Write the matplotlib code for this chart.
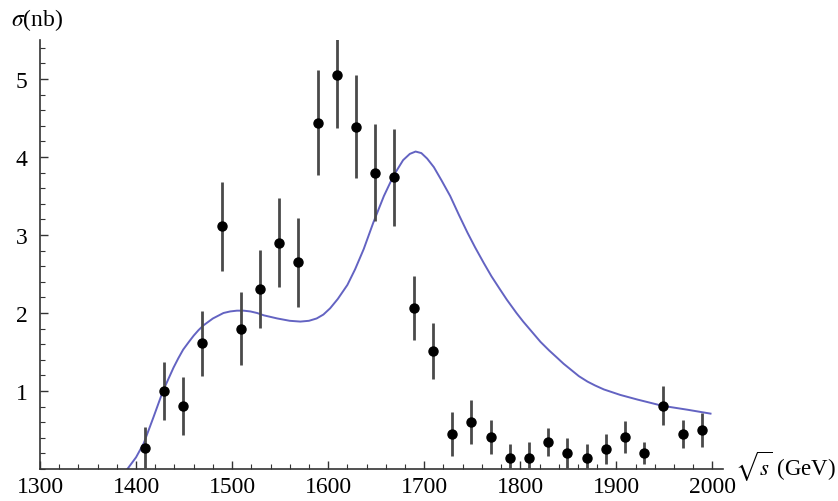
import numpy as np
import matplotlib
matplotlib.use('Agg')
import matplotlib.pyplot as plt
from matplotlib.ticker import MultipleLocator

# measured points
energy = [1409, 1429, 1449, 1469, 1489, 1509, 1529, 1549, 1569, 1589,
          1609, 1629, 1649, 1669, 1689, 1709, 1729, 1749, 1769, 1789,
          1809, 1829, 1849, 1869, 1889, 1909, 1929, 1949, 1969, 1989]
sigma = [0.27, 1.00, 0.81, 1.61, 3.11, 1.80, 2.31, 2.90, 2.65, 4.44,
         5.05, 4.39, 3.80, 3.74, 2.06, 1.51, 0.45, 0.60, 0.41, 0.14,
         0.14, 0.35, 0.20, 0.14, 0.26, 0.41, 0.21, 0.81, 0.45, 0.50]
sigma_err = [0.27, 0.37, 0.37, 0.42, 0.57, 0.47, 0.50, 0.57, 0.57, 0.67,
             0.68, 0.66, 0.62, 0.62, 0.41, 0.36, 0.28, 0.28, 0.22, 0.18,
             0.20, 0.18, 0.20, 0.18, 0.19, 0.21, 0.14, 0.25, 0.18, 0.22]

# fit curve
fit_x = [1391, 1400, 1408, 1418, 1428, 1439, 1444, 1449, 1455, 1460,
         1465, 1470, 1480, 1491, 1498, 1505, 1512, 1519, 1526, 1533,
         1547, 1560, 1571, 1580, 1588, 1595, 1602, 1610, 1620, 1628,
         1637, 1647, 1658, 1668, 1678, 1685, 1691, 1697, 1703, 1710,
         1718, 1727, 1736, 1745, 1753, 1762, 1770, 1779, 1786, 1796,
         1803, 1812, 1821, 1830, 1838, 1845, 1852, 1861, 1870, 1878,
         1887, 1904, 1922, 1948, 1974, 1998]
fit_y = [0.00, 0.15, 0.33, 0.66, 1.00, 1.30, 1.42, 1.53, 1.63, 1.71,
         1.78, 1.84, 1.93, 2.00, 2.02, 2.03, 2.03, 2.02, 2.00, 1.97,
         1.93, 1.90, 1.89, 1.90, 1.93, 1.98, 2.06, 2.18, 2.36, 2.56,
         2.82, 3.16, 3.50, 3.76, 3.96, 4.04, 4.07, 4.05, 3.98, 3.87,
         3.70, 3.50, 3.26, 3.03, 2.84, 2.64, 2.47, 2.30, 2.17, 2.00,
         1.89, 1.76, 1.63, 1.52, 1.43, 1.35, 1.28, 1.19, 1.12, 1.07,
         1.02, 0.95, 0.89, 0.81, 0.76, 0.71]

plt.rcParams['font.family'] = ['Liberation Serif', 'DejaVu Serif']
plt.rcParams['mathtext.fontset'] = 'stix'

fig = plt.figure(figsize=(8.38, 5.02), dpi=100)
ax = fig.add_axes([40 / 838, 32 / 502, 683 / 838, 429 / 502])

ax.plot(fit_x, fit_y, color='#6363c2', lw=1.4, zorder=2)
ax.errorbar(energy, sigma, yerr=sigma_err, fmt='o', color='black', ms=6.5,
            ecolor='#4a4a4a', elinewidth=2.0, capsize=0, zorder=3)

ax.set_xlim(1300, 2011)
ax.set_ylim(0, 5.5)

for side in ['top', 'right']:
    ax.spines[side].set_visible(False)
for side in ['left', 'bottom']:
    ax.spines[side].set_linewidth(1.2)
    ax.spines[side].set_color('#333333')

ax.xaxis.set_major_locator(MultipleLocator(100))
ax.xaxis.set_minor_locator(MultipleLocator(20))
ax.yaxis.set_major_locator(MultipleLocator(1))
ax.yaxis.set_minor_locator(MultipleLocator(0.2))
ax.set_yticks([1, 2, 3, 4, 5])
ax.tick_params(which='major', direction='in', length=6, width=1.0, color='#333333',
               labelsize=17)
ax.tick_params(which='minor', direction='in', length=3.5, width=0.8, color='#333333')
ax.tick_params(axis='x', pad=5)
ax.tick_params(axis='y', pad=9)

fig.text(11 / 838, 1 - 20 / 502, r'$\sigma$(nb)', fontsize=17, va='center', ha='left')
fig.text(735 / 838, 1 - 467 / 502, r'$\sqrt{s}$ (GeV)', fontsize=16.5,
         va='center', ha='left')

fig.savefig('out.png', dpi=100)
